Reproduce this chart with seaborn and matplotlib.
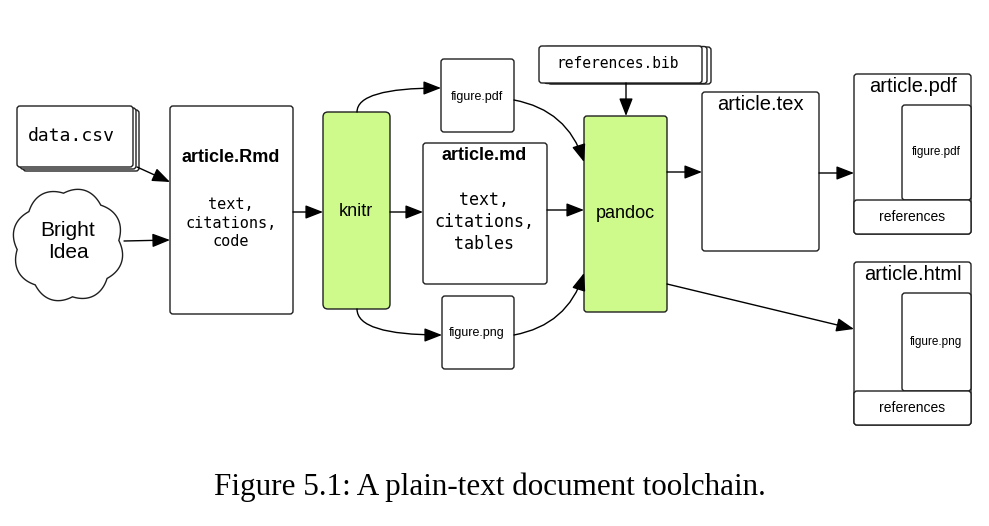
"""Plain-text document toolchain diagram (Figure 5.1)."""
import numpy as np
import matplotlib
matplotlib.use("Agg")
import matplotlib.pyplot as plt
from matplotlib.patches import FancyBboxPatch, FancyArrowPatch, Polygon
import seaborn as sns

sns.set_theme(style="white")
plt.rcParams["font.family"] = ["Liberation Sans", "DejaVu Sans"]

SANS = "Liberation Sans"
MONO = "DejaVu Sans Mono"
SERIF = "Liberation Serif"
EDGE = "#1f1f1f"
GREEN = "#cdfa8b"

# --- content -------------------------------------------------------------
node_names = ["data.csv", "Bright\nIdea", "article.Rmd", "knitr", "figure.pdf",
              "article.md", "figure.png", "pandoc", "references.bib",
              "article.tex", "article.pdf", "article.html"]
rmd_body = "text,\ncitations,\ncode"
md_body = "text,\ncitations,\ntables"
output_parts = ["figure.pdf", "figure.png"]
footer_label = "references"
caption = "Figure 5.1: A plain-text document toolchain."

# --- layout (pixel space, y down) -----------------------------------------
# name: (x, y, w, h)
boxes = {
    "data.csv": (17, 106, 116, 61),
    "article.Rmd": (170, 106, 123, 208),
    "knitr": (323, 112, 67, 197),
    "figure.pdf": (441, 59, 73, 73),
    "article.md": (423, 143, 124, 141),
    "figure.png": (442, 296, 72, 73),
    "pandoc": (584, 116, 83, 196),
    "references.bib": (539, 46, 163, 37),
    "article.tex": (702, 92, 117, 159),
    "article.pdf": (854, 74, 117, 160),
    "article.html": (854, 262, 117, 163),
}

fig = plt.figure(figsize=(9.89, 5.26), dpi=100)
ax = fig.add_axes([0, 0, 1, 1])
ax.set_xlim(0, 989)
ax.set_ylim(526, 0)
ax.axis("off")


def box(name, fc="white", dx=0, dy=0, r=3, z=2):
    x, y, w, h = boxes[name]
    p = FancyBboxPatch((x + dx, y + dy), w, h,
                       boxstyle=f"round,pad=0,rounding_size={r}",
                       fc=fc, ec=EDGE, lw=1.0, zorder=z)
    ax.add_patch(p)


def arrow(a, b, style="arc3,rad=0"):
    ax.add_patch(FancyArrowPatch(a, b, connectionstyle=style,
                                 arrowstyle="-|>,head_length=0.9,head_width=0.35",
                                 mutation_scale=12, color="black", lw=1.0,
                                 shrinkA=0, shrinkB=0, zorder=5))


def label(x, y, s, size, family=SANS, weight="normal", ls=1.2):
    ax.text(x, y, s, ha="center", va="center", fontsize=size, family=family,
            fontweight=weight, linespacing=ls, color="black", zorder=6)


# stacked sheets
for off in [(6, 4), (3, 2)]:
    box("data.csv", dx=off[0], dy=off[1], z=1)
box("data.csv")
for off in [(9, 1), (5, 0.5)]:
    box("references.bib", dx=off[0], dy=off[1], z=1)
box("references.bib")

for name in ["article.Rmd", "figure.pdf", "article.md", "figure.png",
             "article.tex", "article.pdf", "article.html"]:
    box(name)
box("knitr", fc=GREEN, r=5)
box("pandoc", fc=GREEN, r=3)

# cloud outline (scalloped ellipse)
t = np.linspace(0, 2 * np.pi, 721)
bump = 1 + 0.1 * np.abs(np.sin(4 * t + 0.35))
cx, cy, rx, ry = 68, 245, 51, 52
pts = np.column_stack([cx + rx * bump * np.cos(t), cy + ry * bump * np.sin(t)])
ax.add_patch(Polygon(pts, closed=True, fc="white", ec=EDGE, lw=1.0, zorder=2))

# output documents: inner figure box + references band
for name, part in zip(["article.pdf", "article.html"], output_parts):
    x, y, w, h = boxes[name]
    band = 34
    ax.add_patch(FancyBboxPatch((x + 48, y + 31), w - 48, h - band - 31,
                                boxstyle="round,pad=0,rounding_size=3",
                                fc="white", ec=EDGE, lw=1.0, zorder=3))
    ax.add_patch(FancyBboxPatch((x, y + h - band), w, band,
                                boxstyle="round,pad=0,rounding_size=3",
                                fc="white", ec=EDGE, lw=1.0, zorder=3))
    label(x + 48 + (w - 48) / 2, y + 31 + (h - band - 31) / 2, part, 8.5)
    label(x + w / 2, y + h - band / 2, footer_label, 10)
    label(x + w / 2, y + 12, name, 14.5)

# labels
label(71, 136, node_names[0], 13, family=MONO)
label(68, 242, node_names[1], 15)
label(231, 158, node_names[2], 13, weight="bold")
label(231, 223, rmd_body, 11, family=MONO, ls=1.3)
label(356, 212, node_names[3], 13)
label(477, 97, node_names[4], 9)
label(484, 156, node_names[5], 13, weight="bold")
label(484, 222, md_body, 12, family=MONO, ls=1.32)
label(477, 333, node_names[6], 9)
label(625, 213, node_names[7], 13)
label(618, 64, node_names[8], 10.5, family=MONO)
label(760, 104, node_names[9], 14.5)

# arrows
arrow((137, 167), (170, 182))
arrow((124, 241), (170, 240))
arrow((293, 212), (323, 212))
arrow((357, 112), (441, 88), "angle3,angleA=90,angleB=0")
arrow((357, 309), (442, 335), "angle3,angleA=90,angleB=0")
arrow((390, 212), (423, 212))
arrow((547, 210), (584, 210))
arrow((514, 100), (584, 162), "arc3,rad=-0.3")
arrow((514, 335), (584, 273), "arc3,rad=0.3")
arrow((626, 83), (626, 116))
arrow((667, 172), (702, 172))
arrow((819, 173), (854, 173))
arrow((667, 284), (854, 329))

ax.text(490, 487, caption, ha="center", va="center", fontsize=22.4,
        family=SERIF, color="black")

fig.savefig("out.png", dpi=100)
